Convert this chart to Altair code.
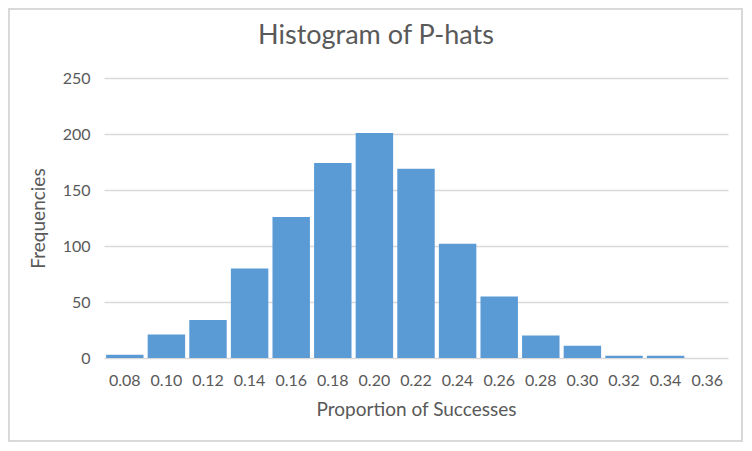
import altair as alt
import pandas as pd

# p-hat bins and how many samples fell in each
bins = ["0.08", "0.10", "0.12", "0.14", "0.16", "0.18", "0.20", "0.22",
        "0.24", "0.26", "0.28", "0.30", "0.32", "0.34", "0.36"]
freqs = [3, 21, 34, 80, 126, 174, 201, 169, 102, 55, 20, 11, 2, 2, 0]
chart_title = "Histogram of P-hats"

df = pd.DataFrame({"bin": bins, "freq": freqs})

FONT = "Lato"
GREY = "#595959"

bars = alt.Chart(df).mark_bar(color="#5b9bd5").encode(
    x=alt.X("bin:N", sort=bins, title="Proportion of Successes",
            scale=alt.Scale(paddingInner=0.1, paddingOuter=0.05),
            axis=alt.Axis(labelAngle=0, labelPadding=14, ticks=False, domain=False,
                          labelFontSize=16, titleFontSize=19, titlePadding=12,
                          labelColor=GREY, titleColor=GREY, labelFont=FONT,
                          titleFont=FONT, titleFontWeight="normal")),
    y=alt.Y("freq:Q", title="Frequencies",
            scale=alt.Scale(domain=[0, 250]),
            axis=alt.Axis(values=[0, 50, 100, 150, 200, 250], ticks=False, domain=False,
                          labelPadding=14, labelFontSize=16, titleFontSize=19,
                          titlePadding=14, labelColor=GREY, titleColor=GREY,
                          labelFont=FONT, titleFont=FONT, titleFontWeight="normal",
                          gridColor="#d9d9d9", gridWidth=1.3)),
)

# light border around the whole chart, like Excel's chart area
frame = alt.Chart(df).mark_rect(fill=None, stroke="#d9d9d9", strokeWidth=1.5).encode(
    x=alt.value(-95), x2=alt.value(638),
    y=alt.value(-69), y2=alt.value(363),
)

title = alt.Chart(pd.DataFrame({"t": [chart_title]})).mark_text(
    font=FONT, fontSize=27, color=GREY, align="center", baseline="middle"
).encode(text="t:N", x=alt.value(272), y=alt.value(-42))

chart = alt.layer(frame, bars, title).properties(
    width=624, height=280,
    autosize=alt.AutoSizeParams(type="none"),
    padding={"left": 96, "top": 70, "right": 16, "bottom": 85},
).configure_view(stroke=None)

chart.save("out.html", embed_options={"renderer": "svg", "actions": False})
